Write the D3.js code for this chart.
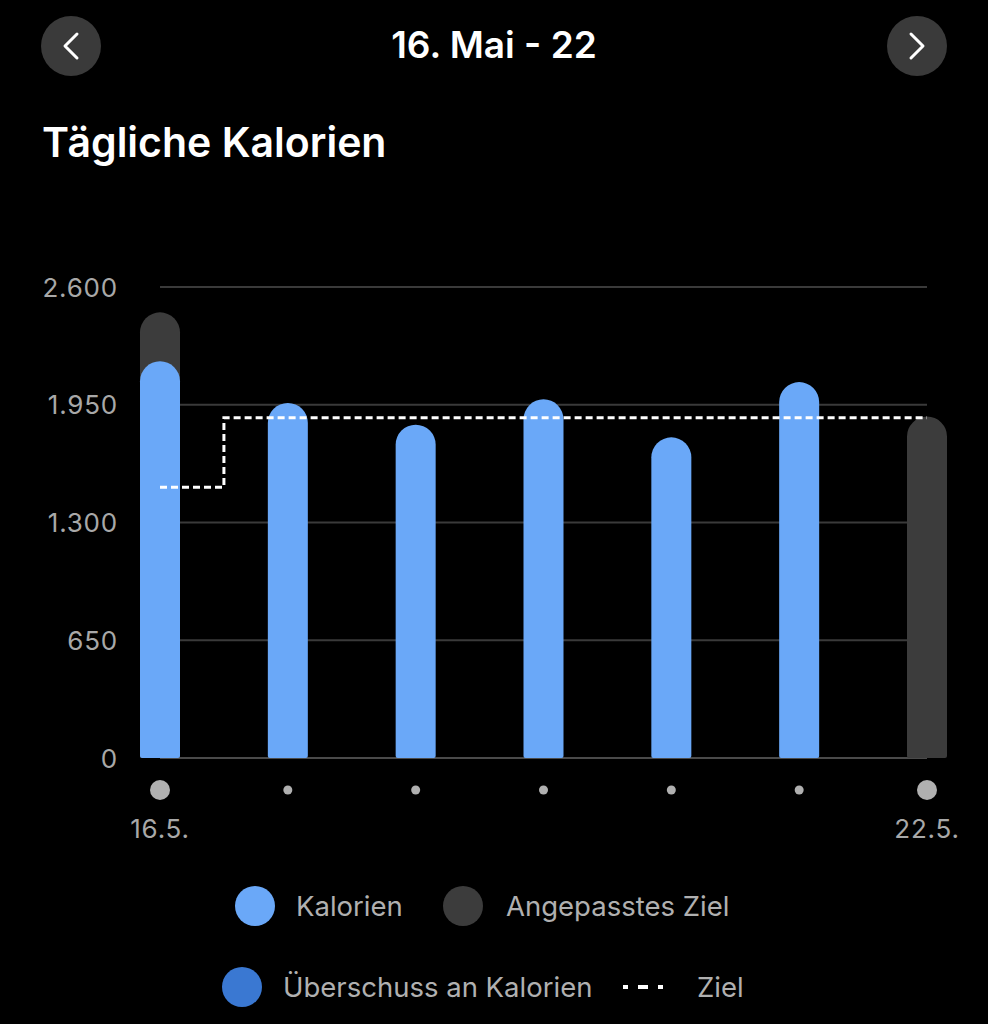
<!DOCTYPE html>
<html><head><meta charset="utf-8">
<script src="https://cdn.jsdelivr.net/npm/d3@7"></script>
<style>html,body{margin:0;padding:0;background:#000;}svg{display:block;}</style>
</head><body>
<script>
const days = ["16.5.","17.5.","18.5.","19.5.","20.5.","21.5.","22.5."];
const calories = [2190, 1960, 1840, 1980, 1770, 2075, null];
const adjustedGoal = [2460, null, null, null, null, null, 1885];
const goal = [1495, 1878, 1878, 1878, 1878, 1878, 1878];
const yTicks = [0, 650, 1300, 1950, 2600];
const xLabelDays = ["16.5.", "22.5."];
const legendItems = [
  {label:"Kalorien", type:"dot", color:"#6aa8f8"},
  {label:"Angepasstes Ziel", type:"dot", color:"#3c3c3c"},
  {label:"Überschuss an Kalorien", type:"dot", color:"#3a78d2"},
  {label:"Ziel", type:"dash", color:"#ffffff"}
];

const W = 988, H = 1024;
const svg = d3.select("body").append("svg").attr("width", W).attr("height", H);
const font = "Inter, 'Open Sans', sans-serif";

// header
const navBtn = [{x:71, dir:-1},{x:917, dir:1}];
navBtn.forEach(b=>{
  svg.append("circle").attr("cx", b.x).attr("cy", 46).attr("r", 30).attr("fill", "#3a3a3a");
  svg.append("path")
    .attr("d", `M${b.x - b.dir*6},${34} L${b.x + b.dir*6},${46} L${b.x - b.dir*6},${58}`)
    .attr("fill","none").attr("stroke","#fff").attr("stroke-width",3).attr("stroke-linecap","round").attr("stroke-linejoin","round");
});
svg.append("text").attr("x", 494).attr("y", 58).attr("text-anchor","middle")
  .attr("fill","#fff").attr("font-family",font).attr("font-weight",600).attr("font-size",37).text("16. Mai - 22");
svg.append("text").attr("x", 42).attr("y", 157)
  .attr("fill","#fff").attr("font-family",font).attr("font-weight",600).attr("font-size",41).text("Tägliche Kalorien");

// scales
const x = d3.scalePoint().domain(days).range([160, 927]);
const y = d3.scaleLinear().domain([0, 2600]).range([758, 287]);
const bw = 40;

// gridlines
svg.append("g").selectAll("line").data(yTicks).join("line")
  .attr("x1", 160).attr("x2", 927)
  .attr("y1", d=>y(d)).attr("y2", d=>y(d))
  .attr("stroke", d=> d===0 ? "#4a4a4a" : "#3a3a3a").attr("stroke-width", 2);

// y axis labels
const yAxis = d3.axisLeft(y).tickValues(yTicks).tickSize(0).tickPadding(0)
  .tickFormat(d => d3.format(",")(d).replace(/,/g, "."));
const ya = svg.append("g").attr("transform", "translate(118,0)").call(yAxis);
ya.select(".domain").remove();
ya.selectAll("text").attr("fill","#a8a8a8").attr("font-family",font).attr("font-size",26)
  .attr("letter-spacing","0.8px").attr("dy","0.35em");

function barPath(cx, v){
  const x0 = cx - bw/2, x1 = cx + bw/2, yt = y(v), yb = y(0), r = bw/2, rb = 2;
  return `M${x0},${yb - rb} L${x0},${yt + r} A${r},${r} 0 0 1 ${x1},${yt + r} L${x1},${yb - rb} Q${x1},${yb} ${x1-rb},${yb} L${x0+rb},${yb} Q${x0},${yb} ${x0},${yb-rb} Z`;
}

// adjusted goal bars (behind)
svg.append("g").selectAll("path").data(days.map((d,i)=>({d, v:adjustedGoal[i]})).filter(e=>e.v!=null)).join("path")
  .attr("d", e=>barPath(x(e.d), e.v)).attr("fill", "#3c3c3c");
// calorie bars
svg.append("g").selectAll("path").data(days.map((d,i)=>({d, v:calories[i]})).filter(e=>e.v!=null)).join("path")
  .attr("d", e=>barPath(x(e.d), e.v)).attr("fill", "#6aa8f8");

// goal line
const line = d3.line().x((d,i)=>x(days[i])).y(d=>y(d)).curve(d3.curveStep);
svg.append("path").datum(goal).attr("d", line).attr("fill","none")
  .attr("stroke","#fff").attr("stroke-width",3).attr("stroke-dasharray","7 4");

// x dots
svg.append("g").selectAll("circle").data(days).join("circle")
  .attr("cx", d=>x(d)).attr("cy", 790)
  .attr("r", d=> xLabelDays.includes(d) ? 10 : 4.5).attr("fill","#b0b0b0");
svg.append("g").selectAll("text").data(xLabelDays).join("text")
  .attr("x", d=>x(d)).attr("y", 838).attr("text-anchor","middle")
  .attr("fill","#a8a8a8").attr("font-family",font).attr("font-size",26).attr("letter-spacing","0.8px").text(d=>d);

// legend
const legPos = [{cx:255, cy:906, tx:296},{cx:463, cy:906, tx:506},{cx:242, cy:987, tx:283},{cx:643, cy:987, tx:697}];
legendItems.forEach((it,i)=>{
  const p = legPos[i];
  if(it.type==="dot"){
    svg.append("circle").attr("cx",p.cx).attr("cy",p.cy).attr("r",20).attr("fill",it.color);
  } else {
    svg.append("line").attr("x1",p.cx-20).attr("x2",p.cx+20).attr("y1",p.cy).attr("y2",p.cy)
      .attr("stroke",it.color).attr("stroke-width",4).attr("stroke-dasharray","5 10 10 10 5");
  }
  svg.append("text").attr("x",p.tx).attr("y",p.cy).attr("dy","0.35em")
    .attr("fill","#b0b0b0").attr("font-family",font).attr("font-size",27.5).text(it.label);
});
</script>
</body></html>
